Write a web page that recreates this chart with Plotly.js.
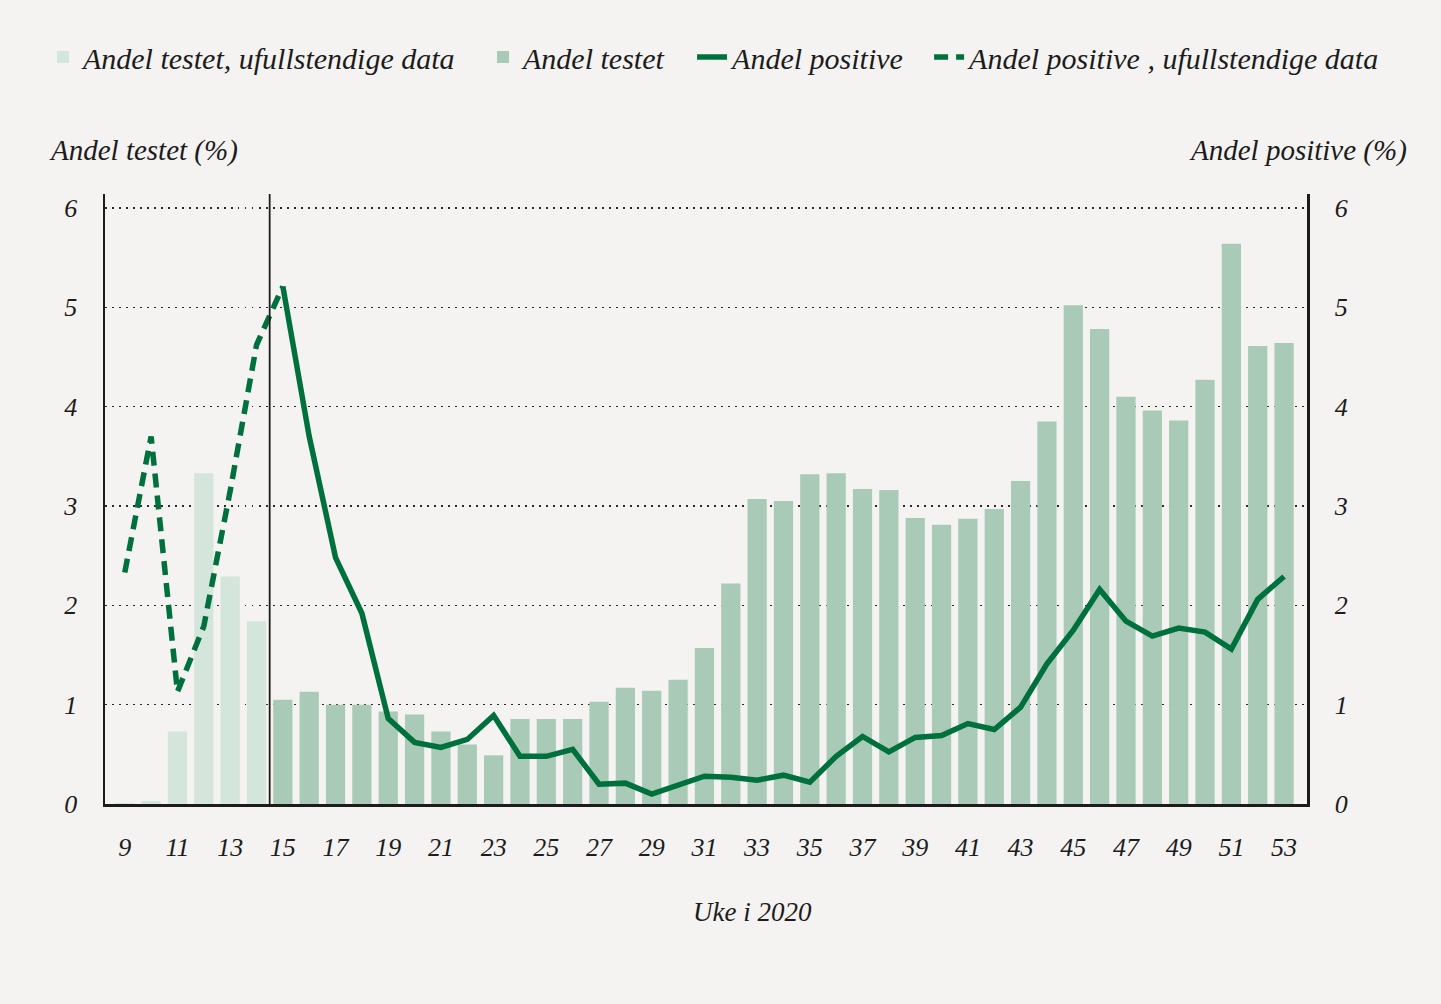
<!DOCTYPE html>
<html>
<head>
<meta charset="utf-8">
<script src="https://cdn.plot.ly/plotly-3.0.1.min.js"></script>
<style>
html,body{margin:0;padding:0;background:#f4f3f1;}
#chart{width:1441px;height:1004px;}
</style>
</head>
<body>
<div id="chart"></div>
<script>
// Weeks
const weeksIncomplete = [9, 10, 11, 12, 13, 14];
const weeksComplete = [15,16,17,18,19,20,21,22,23,24,25,26,27,28,29,30,31,32,33,34,35,36,37,38,39,40,41,42,43,44,45,46,47,48,49,50,51,52,53];
const weeksPosDashed = [9, 10, 11, 12, 13, 14, 15];

// Andel testet (%)
const testedIncomplete = [0.01, 0.03, 0.73, 3.33, 2.29, 1.84];
const testedComplete = [1.05,1.13,1.00,1.00,0.93,0.90,0.73,0.60,0.49,0.855,0.855,0.855,1.03,1.17,1.14,1.25,1.57,2.22,3.07,3.05,3.32,3.33,3.17,3.16,2.88,2.81,2.87,2.97,3.25,3.85,5.02,4.78,4.10,3.96,3.86,4.27,5.64,4.61,4.64];

// Andel positive (%)
const positiveIncomplete = [2.33, 3.70, 1.13, 1.79, 3.15, 4.62, 5.21];
const positiveComplete = [5.21,3.70,2.48,1.92,0.86,0.62,0.57,0.65,0.89,0.48,0.48,0.55,0.20,0.21,0.10,0.19,0.28,0.27,0.24,0.29,0.22,0.48,0.68,0.525,0.67,0.69,0.81,0.75,0.975,1.41,1.75,2.16,1.84,1.69,1.77,1.73,1.56,2.06,2.29];

// Tick labels
const xTickVals = [9,11,13,15,17,19,21,23,25,27,29,31,33,35,37,39,41,43,45,47,49,51,53];
const xTickText = xTickVals.map(String);
const yTickVals = [0,1,2,3,4,5,6];
const yTickText = ['0','1','2','3','4','5','6'];

const FONT = 'Liberation Serif, DejaVu Serif, serif';
const INK = '#1c1c1c';
const DARK = '#00703c';

const traces = [
  {type:'bar', name:'Andel testet, ufullstendige data', x:weeksIncomplete, y:testedIncomplete,
   width:0.73, marker:{color:'#d4e5db'}, hoverinfo:'skip', legend:'legend'},
  {type:'bar', name:'Andel testet', x:weeksComplete, y:testedComplete,
   width:0.73, marker:{color:'#a8cab6'}, hoverinfo:'skip', legend:'legend2'},
  {type:'scatter', mode:'lines', name:'Andel positive', x:weeksComplete, y:positiveComplete,
   yaxis:'y2', line:{color:DARK, width:5.5}, hoverinfo:'skip', legend:'legend3'},
  {type:'scatter', mode:'lines', name:'Andel positive , ufullstendige data', x:weeksPosDashed, y:positiveIncomplete,
   yaxis:'y2', line:{color:DARK, width:5.5, dash:'14px,8px'}, hoverinfo:'skip', legend:'legend4'}
];

const legendFont = {family:FONT, size:30, color:INK, style:'italic'};
function mkLegend(x){
  return {orientation:'h', x:x, xanchor:'left', y:1.2246, yanchor:'middle',
          font:legendFont, bgcolor:'rgba(0,0,0,0)', itemwidth:30};
}

const layout = {
  width:1441, height:1004,
  paper_bgcolor:'#f4f3f1', plot_bgcolor:'#f4f3f1',
  margin:{l:105, r:134, t:194, b:200},
  barmode:'overlay',
  showlegend:true,
  legend:mkLegend(-0.0516),
  legend2:mkLegend(0.3145),
  legend3:mkLegend(0.4884),
  legend4:mkLegend(0.6856),
  font:{family:FONT, color:INK},
  xaxis:{range:[8.25,53.87], tickvals:xTickVals, ticktext:xTickText, ticks:'',
         showgrid:false, zeroline:false, showline:true, linecolor:'#1c1c1c', linewidth:2.5,
         mirror:false, ticklabelstandoff:18,
         tickfont:{family:FONT, size:26, color:INK, style:'italic'}},
  yaxis:{range:[0,6.14], tickvals:yTickVals, ticktext:yTickText, ticks:'',
         showgrid:true, gridcolor:'#2a2a2a', gridwidth:1.5, griddash:'1.5px,5.5px',
         zeroline:false, showline:true, linecolor:'#1c1c1c', linewidth:2.5,
         ticklabelstandoff:20,
         tickfont:{family:FONT, size:26, color:INK, style:'italic'}},
  yaxis2:{range:[0,6.14], overlaying:'y', side:'right', tickvals:yTickVals, ticktext:yTickText, ticks:'',
          showgrid:false, zeroline:false, showline:true, linecolor:'#1c1c1c', linewidth:2.5,
          ticklabelstandoff:20,
          tickfont:{family:FONT, size:26, color:INK, style:'italic'}},
  shapes:[
    {type:'line', xref:'x', yref:'paper', x0:14.5, x1:14.5, y0:0, y1:1,
     line:{color:'#1c1c1c', width:1.8}, layer:'above'}
  ],
  annotations:[
    {text:'Andel testet (%)', xref:'paper', yref:'paper', x:-0.0483, y:1.0705, xanchor:'left', yanchor:'middle',
     showarrow:false, font:{family:FONT, size:29, color:INK, style:'italic'}},
    {text:'Andel positive (%)', xref:'paper', yref:'paper', x:1.0845, y:1.0705, xanchor:'right', yanchor:'middle',
     showarrow:false, font:{family:FONT, size:29, color:INK, style:'italic'}},
    {text:'Uke i 2020', xref:'paper', yref:'paper', x:0.539, y:-0.177, xanchor:'center', yanchor:'middle',
     showarrow:false, font:{family:FONT, size:27, color:INK, style:'italic'}}
  ]
};

Plotly.newPlot('chart', traces, layout, {displayModeBar:false, staticPlot:true});
</script>
</body>
</html>
